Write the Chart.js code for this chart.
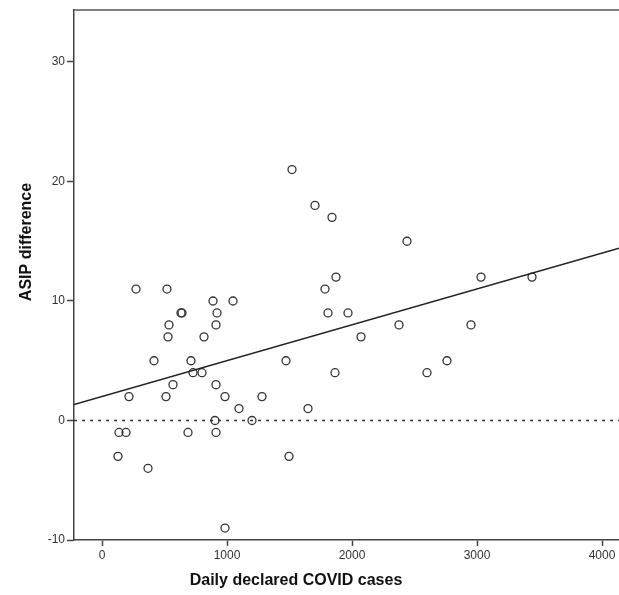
<!DOCTYPE html>
<html lang="en">
<head>
<meta charset="UTF-8">
<title>ASIP difference vs daily COVID cases</title>
<script src="https://cdn.jsdelivr.net/npm/chart.js@4.4.1/dist/chart.umd.min.js"></script>
<style>
  body { margin: 0; background: #fff; }
  canvas { display: block; }
</style>
</head>
<body>
<canvas id="myChart" width="619" height="595"></canvas>
<script>
// daily declared cases (x) and ASIP difference (y)
var casesX = [272, 520, 1784, 1872, 3032, 3440, 1520, 1704, 1840, 2440,
  888, 1048, 632, 640, 920, 1808, 1968, 536, 912, 2376,
  2952, 528, 816, 2072, 416, 712, 1472, 2760, 728, 800,
  1864, 2600, 568, 912, 216, 512, 984, 1280, 1096, 1648,
  904, 1200, 136, 192, 688, 912, 128, 1496, 368, 984]
var asipY = [11, 11, 11, 12, 12, 12, 21, 18, 17, 15,
  10, 10, 9, 9, 9, 9, 9, 8, 8, 8,
  8, 7, 7, 7, 5, 5, 5, 5, 4, 4,
  4, 4, 3, 3, 2, 2, 2, 2, 1, 1,
  0, 0, -1, -1, -1, -1, -3, -3, -4, -9]

// fit line end points and the zero reference line
var fitX = [-224, 4136]
var fitY = [1.33, 14.41]
var zeroX = [-224, 4136]
var zeroY = [0, 0]

var xTicks = [0, 1000, 2000, 3000, 4000]
var yTicks = [-10, 0, 10, 20, 30]

var xTitle = "Daily declared COVID cases"
var yTitle = "ASIP difference"

function pairs(xs, ys){
  return xs.map((x, i) => ({x: x, y: ys[i]}))
}

// top frame line + axis titles
var frame = {
  id: 'frame',
  afterDraw(chart){
    const c = chart.ctx
    const a = chart.chartArea
    c.save()
    c.strokeStyle = '#555'
    c.lineWidth = 1.5
    c.beginPath()
    c.moveTo(a.left, a.top)
    c.lineTo(a.right, a.top)
    c.stroke()
    c.fillStyle = '#111'
    c.font = 'bold 16px "Liberation Sans", Arial, sans-serif'
    c.textAlign = 'center'
    c.textBaseline = 'middle'
    c.fillText(xTitle, 296, 581)
    c.translate(27, 242)
    c.rotate(-Math.PI / 2)
    c.fillText(yTitle, 0, 0)
    c.restore()
  }
}

var tickFont = {family: '"Liberation Sans", Arial, sans-serif', size: 12}

var ctx = document.getElementById('myChart')
var myChart = new Chart(ctx.getContext('2d'), {
  type: 'scatter',
  data: {
    datasets: [{
      label: 'zero',
      type: 'line',
      data: pairs(zeroX, zeroY),
      borderColor: '#333',
      borderWidth: 1.5,
      borderDash: [3, 5],
      pointRadius: 0,
      fill: false
    }, {
      label: 'fit',
      type: 'line',
      data: pairs(fitX, fitY),
      borderColor: '#222',
      borderWidth: 1.5,
      pointRadius: 0,
      fill: false
    }, {
      label: 'ASIP difference',
      data: pairs(casesX, asipY),
      pointStyle: 'circle',
      pointRadius: 4,
      borderWidth: 1.3,
      borderColor: '#333',
      backgroundColor: 'rgba(0,0,0,0)'
    }]
  },
  options: {
    responsive: false,
    animation: false,
    layout: { autoPadding: false, padding: { top: 10, right: 0, left: 0, bottom: 0 } },
    plugins: { legend: { display: false }, tooltip: { enabled: false } },
    scales: {
      x: {
        type: 'linear',
        min: -224,
        max: 4136,
        afterBuildTicks: (s) => { s.ticks = xTicks.map(v => ({value: v})) },
        afterFit: (s) => { s.height = 55; s.paddingLeft = 0; s.paddingRight = 0 },
        grid: { drawOnChartArea: false, tickLength: 6, tickColor: '#444', tickWidth: 1.5 },
        border: { color: '#444', width: 1.5 },
        ticks: { color: '#333', font: tickFont, padding: 2, maxRotation: 0,
          callback: (v) => String(v) }
      },
      y: {
        type: 'linear',
        min: -10,
        max: 34.35,
        afterBuildTicks: (s) => { s.ticks = yTicks.map(v => ({value: v})) },
        afterFit: (s) => { s.width = 74; s.paddingTop = 0; s.paddingBottom = 0 },
        grid: { drawOnChartArea: false, tickLength: 7, tickColor: '#444', tickWidth: 1.5 },
        border: { color: '#444', width: 1.5 },
        ticks: { color: '#333', font: tickFont, padding: 2, callback: (v) => String(v) }
      }
    }
  },
  plugins: [frame]
})
</script>
</body>
</html>
